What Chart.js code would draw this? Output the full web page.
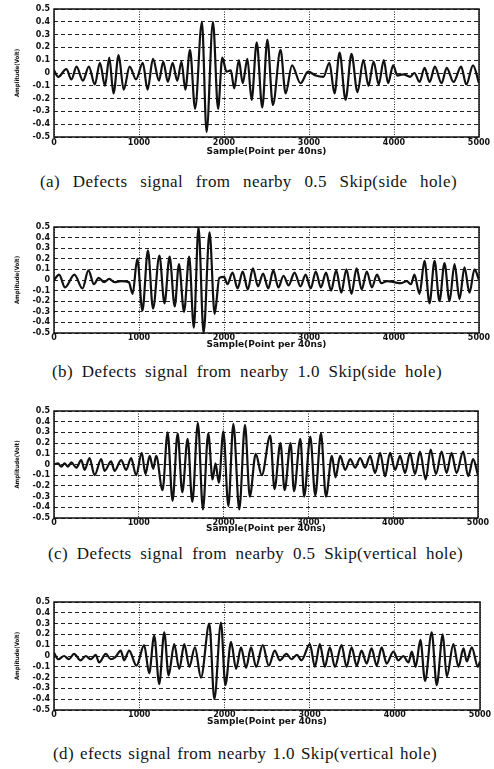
<!DOCTYPE html>
<html><head><meta charset="utf-8">
<script src="https://cdn.jsdelivr.net/npm/chart.js@4.4.1/dist/chart.umd.min.js"></script>
<style>
html,body{margin:0;padding:0;background:#fff;width:494px;height:769px;overflow:hidden}
body{position:relative}
canvas{position:absolute;left:0}
.cap{position:absolute;white-space:nowrap;font-family:"Liberation Serif","Times New Roman",serif;font-size:17px;letter-spacing:0.4px;line-height:20px;color:#141414}
</style></head><body>
<script>
// ---- tick labels / texts ----
const xTickValues=[0,1000,2000,3000,4000,5000];
const xTickLabels=['0','1000','2000','3000','4000','5000'];
const yTickValues=[-0.5,-0.4,-0.3,-0.2,-0.1,0,0.1,0.2,0.3,0.4,0.5];
const yTickLabels=['-0.5','-0.4','-0.3','-0.2','-0.1','0','0.1','0.2','0.3','0.4','0.5'];
const xTitle='Sample(Point per 40ns)';
const yTitle='Amplitude(Volt)';
const captions=['(a) Defects signal from nearby 0.5 Skip(side hole)','(b) Defects signal from nearby 1.0 Skip(side hole)','(c) Defects signal from nearby 0.5 Skip(vertical hole)','(d) efects signal from nearby 1.0 Skip(vertical hole)'];

// ---- (a) extrema: sample index / amplitude (V) ----
const aX=[0,50,145,205,265,340,410,480,540,600,650,700,760,820,890,965,1045,1100,1165,1235,1285,1340,1395,1450,1500,1545,1600,1660,1740,1795,1870,1930,1980,2030,2080,2120,2175,2220,2275,2325,2385,2450,2510,2575,2665,2725,2800,2900,2990,3080,3170,3240,3300,3360,3430,3500,3570,3640,3700,3760,3820,3880,3930,3990,4040,4110,4190,4240,4300,4360,4420,4480,4560,4620,4700,4790,4850,4930,5000];
const aY=[0.02,-0.03,0.03,-0.05,0.05,-0.06,0.05,-0.09,0.08,-0.1,0.12,-0.16,0.14,-0.13,0.05,-0.05,0.08,-0.13,0.11,-0.06,0.09,-0.07,0.08,-0.06,0.09,-0.13,0.18,-0.28,0.4,-0.46,0.4,-0.28,0.12,0.01,0.02,-0.12,0.1,-0.08,0.11,-0.21,0.24,-0.27,0.26,-0.25,0.18,-0.16,0.06,-0.08,0.01,-0.02,-0.03,0.08,-0.16,0.16,-0.21,0.15,-0.15,0.1,-0.1,0.09,-0.09,0.1,-0.08,0.06,-0.02,-0.01,-0.03,0.0,-0.07,0.04,-0.07,0.05,-0.08,0.04,-0.07,0.05,-0.09,0.06,-0.08];
// ---- (b) ----
const bX=[0,60,130,240,335,405,470,525,590,650,710,790,880,925,980,1040,1105,1165,1240,1300,1360,1420,1470,1530,1590,1645,1700,1760,1830,1890,1945,2000,2040,2100,2160,2220,2280,2340,2400,2460,2520,2580,2640,2700,2760,2830,2900,2960,3020,3080,3140,3200,3260,3320,3380,3440,3500,3560,3620,3680,3740,3800,3850,3920,4000,4080,4150,4200,4240,4300,4359,4418,4477,4535,4594,4653,4712,4771,4829,4888,4947,5000];
const bY=[0.0,0.05,-0.07,0.05,-0.08,0.09,-0.04,0.02,-0.02,0.01,-0.02,-0.01,-0.02,-0.13,0.2,-0.29,0.28,-0.27,0.23,-0.22,0.22,-0.25,0.15,-0.3,0.22,-0.45,0.5,-0.5,0.45,-0.32,0.02,0.03,-0.04,0.07,-0.08,0.08,-0.09,0.11,-0.06,0.06,-0.08,0.09,-0.07,0.04,-0.05,0.07,-0.06,0.05,-0.08,0.08,-0.07,0.07,-0.1,0.09,-0.12,0.1,-0.13,0.11,-0.09,0.08,-0.07,0.05,-0.03,-0.01,-0.02,-0.03,-0.01,-0.04,0.05,-0.13,0.18,-0.22,0.18,-0.2,0.16,-0.2,0.15,-0.18,0.12,-0.12,0.1,0.0];
// ---- (c) ----
const cX=[0,47,86,125,165,204,263,321,361,419,478,557,596,674,713,792,851,909,968,1035,1078,1128,1170,1205,1280,1340,1398,1458,1513,1576,1631,1697,1756,1819,1870,1905,1944,1997,2056,2115,2185,2252,2309,2379,2450,2550,2600,2670,2720,2790,2830,2905,2950,3022,3081,3148,3207,3277,3320,3375,3434,3493,3552,3610,3669,3728,3787,3846,3904,3963,4022,4081,4140,4198,4257,4316,4383,4442,4504,4571,4630,4688,4747,4825,4884,4943,5000];
const cY=[0.0,0.01,-0.02,0.01,-0.02,0.02,-0.03,0.04,-0.05,0.06,-0.1,0.05,-0.06,0.03,-0.06,0.04,-0.05,0.06,-0.1,0.11,-0.09,0.08,-0.04,0.08,-0.24,0.3,-0.34,0.29,-0.26,0.24,-0.35,0.39,-0.42,0.29,-0.14,0.01,-0.17,0.31,-0.39,0.38,-0.42,0.37,-0.3,0.1,-0.1,0.27,-0.23,0.2,-0.24,0.2,-0.25,0.24,-0.3,0.26,-0.29,0.29,-0.3,0.08,-0.12,0.08,-0.05,0.05,-0.03,0.06,-0.03,0.08,-0.08,0.11,-0.11,0.11,-0.05,0.08,-0.08,0.11,-0.09,0.12,-0.14,0.14,-0.09,0.12,-0.08,0.11,-0.08,0.12,-0.11,0.05,-0.1];
// ---- (d) ----
const dX=[0,51,118,176,235,313,372,431,490,529,608,666,720,784,823,882,968,1058,1117,1176,1235,1294,1345,1411,1470,1529,1588,1654,1725,1823,1882,1960,2011,2078,2137,2195,2254,2313,2372,2450,2521,2591,2650,2728,2787,2850,2905,3003,3062,3120,3179,3238,3297,3375,3434,3493,3552,3610,3669,3728,3787,3846,3904,3983,4042,4100,4160,4200,4245,4300,4355,4433,4492,4563,4610,4688,4747,4806,4845,4904,4975,5000];
const dY=[0.03,-0.03,0.0,-0.03,0.02,-0.04,0.0,-0.03,0.01,-0.06,0.02,-0.03,-0.01,0.05,-0.04,0.05,-0.09,0.1,-0.16,0.19,-0.26,0.22,-0.18,0.11,-0.12,0.11,-0.1,0.08,-0.2,0.3,-0.4,0.31,-0.27,0.13,-0.12,0.08,-0.11,0.08,-0.1,0.1,-0.09,0.05,-0.04,0.02,-0.03,0.01,-0.04,0.11,-0.1,0.11,-0.1,0.08,-0.1,0.1,-0.1,0.08,-0.09,0.05,-0.07,0.07,-0.09,0.08,-0.07,0.04,-0.04,0.0,-0.06,0.04,-0.1,0.15,-0.23,0.22,-0.27,0.2,-0.19,0.11,-0.1,0.07,-0.05,0.08,-0.1,-0.05];

// ---- layout (pixels) ----
const layouts=[
 {xs:aX,ys:aY,top:9,  bottom:137,left:54,right:479,lblPad:1,titleC:152,capC:182,capL:40,capR:457},
 {xs:bX,ys:bY,top:227,bottom:333,left:54,right:479,lblPad:0,titleC:345,capC:372,capL:52,capR:442},
 {xs:cX,ys:cY,top:411,bottom:518,left:54,right:478,lblPad:0,titleC:529,capC:554,capL:48,capR:463},
 {xs:dX,ys:dY,top:602,bottom:710,left:54,right:480,lblPad:0,titleC:722,capC:754,capL:53,capR:437}
];

const frame={id:'frame',afterDatasetsDraw(c){const {ctx,chartArea:a}=c;ctx.save();ctx.setLineDash([]);ctx.strokeStyle='#111';ctx.lineWidth=1.5;ctx.strokeRect(a.left,a.top,a.right-a.left,a.bottom-a.top);ctx.restore();}};

const tickFont={family:'"DejaVu Sans", sans-serif',size:8,weight:'bold',lineHeight:1};
const padL=14, pTop=9;

layouts.forEach((L,i)=>{
  const cv=document.createElement('canvas');
  const ctop=L.top-pTop;
  const h=L.titleC+5-ctop;
  cv.width=494; cv.height=h; cv.style.top=ctop+'px'; cv.style.width='494px'; cv.style.height=h+'px';
  document.body.appendChild(cv);
  new Chart(cv,{
    type:'line',
    data:{datasets:[{data:L.xs.map((x,k)=>({x:x,y:L.ys[k]})),borderColor:'#111',borderWidth:2.2,pointRadius:0,cubicInterpolationMode:'monotone',fill:false}]},
    options:{
      responsive:false,animation:false,devicePixelRatio:1,
      layout:{padding:{top:pTop,left:padL,right:494-L.right,bottom:0}},
      plugins:{legend:{display:false},tooltip:{enabled:false}},
      scales:{
        x:{type:'linear',min:0,max:5000,
          afterBuildTicks:s=>{s.ticks=xTickValues.map(v=>({value:v}));},
          afterFit:s=>{s.height=L.titleC+5-L.bottom;s.paddingLeft=0;s.paddingRight=0;},
          ticks:{callback:(v,k)=>xTickLabels[k],font:tickFont,color:'#111',padding:L.lblPad+1,maxRotation:0,autoSkip:false},
          grid:{color:'#222',lineWidth:1,drawTicks:false},
          border:{display:false,dash:[1,1.5]},
          title:{display:true,text:xTitle,font:{family:'"DejaVu Sans", sans-serif',size:9,weight:'bold',lineHeight:1.1},color:'#111',padding:0}
        },
        y:{type:'linear',min:-0.5,max:0.5,
          afterBuildTicks:s=>{s.ticks=yTickValues.map(v=>({value:v}));},
          afterFit:s=>{s.width=L.left-padL;},
          ticks:{callback:(v,k)=>yTickLabels[k],font:tickFont,color:'#111',padding:4,autoSkip:false},
          grid:{color:'#222',lineWidth:1,drawTicks:false},
          border:{display:false,dash:[4,3]},
          title:{display:true,text:yTitle,font:{family:'"Liberation Sans Narrow","DejaVu Sans Condensed","Liberation Sans", sans-serif',size:6,weight:'bold',lineHeight:1.2},color:'#111',padding:0}
        }
      }
    },
    plugins:[frame]
  });
  const d=document.createElement('div');
  d.className='cap'; d.textContent=captions[i];
  d.style.left=L.capL+'px'; d.style.top=(L.capC-10)+'px';
  document.body.appendChild(d);
  const nat=d.getBoundingClientRect().width;
  const sp=(captions[i].match(/ /g)||[]).length;
  d.style.wordSpacing=((L.capR-L.capL-nat)/sp)+'px';
});
</script>
</body></html>
